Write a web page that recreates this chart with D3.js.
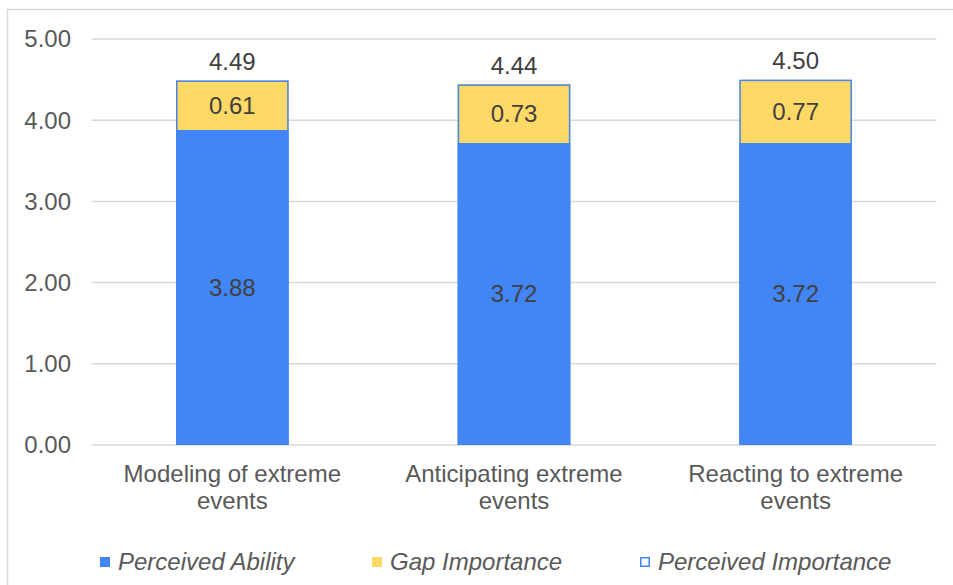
<!DOCTYPE html>
<html><head><meta charset="utf-8">
<script src="https://cdn.jsdelivr.net/npm/d3@7"></script>
<style>body{margin:0;background:#fff}svg{display:block;font-family:"Liberation Sans",Arial,sans-serif}</style>
</head><body><svg id="c" width="953" height="585"></svg>
<script>
const categories = [["Modeling of extreme","events"],["Anticipating extreme","events"],["Reacting to extreme","events"]];
const perceivedAbility = [3.88, 3.72, 3.72];
const gapImportance = [0.61, 0.73, 0.77];
const perceivedImportance = [4.49, 4.44, 4.50];
const yTicks = [0, 1, 2, 3, 4, 5];
const seriesNames = ["Perceived Ability", "Gap Importance", "Perceived Importance"];
const colors = {ability:"#4285F4", gap:"#FFD865", outline:"#4285F4"};
const FS = 24;

const svg = d3.select("#c");
svg.append("rect").attr("x",7.5).attr("y",9.5).attr("width",960).attr("height",600)
  .attr("fill","none").attr("stroke","#D9D9D9").attr("stroke-width",1.5);

const x = d3.scaleBand().domain(d3.range(3)).range([91.5, 936.5]).paddingInner(0.6).paddingOuter(0.3);
const y = d3.scaleLinear().domain([0,5]).range([445, 39]);

svg.append("g").selectAll("line").data(yTicks).join("line")
  .attr("x1",91.5).attr("x2",936.5).attr("y1",d=>y(d)).attr("y2",d=>y(d))
  .attr("stroke","#D9D9D9").attr("stroke-width",1.5);
svg.append("g").selectAll("text").data(yTicks).join("text")
  .attr("x",71).attr("y",d=>y(d)).attr("dy","0.35em").attr("text-anchor","end")
  .attr("font-size",FS).attr("fill","#595959").text(d=>d.toFixed(2));

const idx = d3.range(3);
svg.append("g").selectAll("rect").data(idx).join("rect")
  .attr("x",i=>x(i)).attr("width",x.bandwidth())
  .attr("y",i=>y(perceivedAbility[i])).attr("height",i=>y(0)-y(perceivedAbility[i]))
  .attr("fill",colors.ability);
svg.append("g").selectAll("rect").data(idx).join("rect")
  .attr("x",i=>x(i)).attr("width",x.bandwidth())
  .attr("y",i=>y(perceivedAbility[i]+gapImportance[i])).attr("height",i=>y(perceivedAbility[i])-y(perceivedAbility[i]+gapImportance[i]))
  .attr("fill",colors.gap);
svg.append("g").selectAll("rect").data(idx).join("rect")
  .attr("x",i=>x(i)+0.75).attr("width",x.bandwidth()-1.5)
  .attr("y",i=>y(perceivedImportance[i])+0.75).attr("height",i=>y(0)-y(perceivedImportance[i])-1.5)
  .attr("fill","none").attr("stroke",colors.outline).attr("stroke-width",1.5);

const lab = svg.append("g").attr("font-size",FS).attr("fill","#404040").attr("text-anchor","middle");
idx.forEach(i=>{
  const cx = x(i)+x.bandwidth()/2;
  lab.append("text").attr("x",cx).attr("y",(y(0)+y(perceivedAbility[i]))/2).attr("dy","0.35em").text(perceivedAbility[i].toFixed(2));
  lab.append("text").attr("x",cx).attr("y",(y(perceivedAbility[i])+y(perceivedAbility[i]+gapImportance[i]))/2).attr("dy","0.35em").text(gapImportance[i].toFixed(2));
  lab.append("text").attr("x",cx).attr("y",y(perceivedImportance[i])-19).attr("dy","0.35em").text(perceivedImportance[i].toFixed(2));
});

const cl = svg.append("g").attr("font-size",FS).attr("fill","#595959").attr("text-anchor","middle");
idx.forEach(i=>{
  const t = cl.append("text").attr("x",x(i)+x.bandwidth()/2).attr("y",482);
  categories[i].forEach((ln,j)=>t.append("tspan").attr("x",x(i)+x.bandwidth()/2).attr("dy",j?27:0).text(ln));
});

const leg = svg.append("g").attr("font-size",FS).attr("fill","#595959").attr("font-style","italic");
const legX = [100, 372, 640];
seriesNames.forEach((n,i)=>{
  if(i<2) leg.append("rect").attr("x",legX[i]).attr("y",557).attr("width",10).attr("height",10).attr("fill",i?colors.gap:colors.ability);
  else leg.append("rect").attr("x",legX[i]+0.75).attr("y",557.75).attr("width",8.5).attr("height",8.5).attr("fill","none").attr("stroke",colors.outline).attr("stroke-width",1.5);
  leg.append("text").attr("x",legX[i]+18).attr("y",562).attr("dy","0.35em").text(n);
});
</script></body></html>
